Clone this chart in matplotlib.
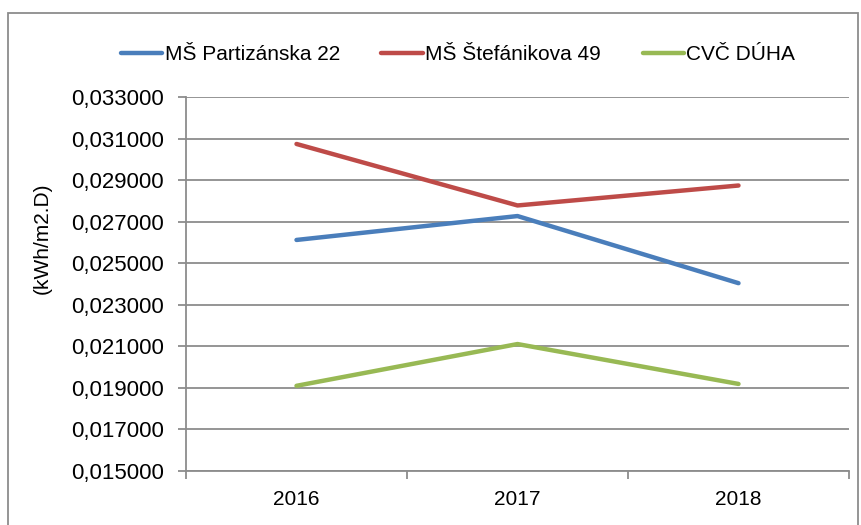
import numpy as np
import matplotlib.pyplot as plt
from matplotlib.patches import Rectangle
from matplotlib.ticker import FuncFormatter

years = ['2016', '2017', '2018']
partizanska = [0.02612, 0.02727, 0.02404]
stefanikova = [0.03074, 0.02778, 0.02874]
duha = [0.01910, 0.02111, 0.01919]

plt.rcParams['font.family'] = ['Liberation Sans', 'DejaVu Sans']

fig = plt.figure(figsize=(8.61, 5.25), dpi=100)
ax = fig.add_axes([186/861, 54/525, 663/861, 374/525])

x = np.arange(len(years))
ax.plot(x, partizanska, color='#4A7EBB', lw=3.2, solid_capstyle='round', label='MŠ Partizánska 22')
ax.plot(x, stefanikova, color='#BE4B48', lw=3.2, solid_capstyle='round', label='MŠ Štefánikova 49')
ax.plot(x, duha, color='#98B954', lw=3.2, solid_capstyle='round', label='CVČ DÚHA')

ax.set_xlim(-0.5, 2.5)
ax.set_ylim(0.015, 0.033)
ax.set_yticks(np.arange(0.015, 0.0331, 0.002))
ax.yaxis.set_major_formatter(FuncFormatter(lambda v, p: f'{v:.6f}'.replace('.', ',')))
ax.yaxis.grid(True, color='#8c8c8c', lw=1.3)
ax.set_axisbelow(True)

ax.set_xticks(x)
ax.set_xticklabels(years)
ax.set_xticks([-0.5, 0.5, 1.5, 2.5], minor=True)
ax.tick_params(axis='x', which='major', length=0, pad=14, labelsize=15)
ax.tick_params(axis='x', which='minor', length=6, color='#8c8c8c', width=1.3)
ax.tick_params(axis='y', length=6, color='#8c8c8c', width=1.3, labelsize=16, pad=10)

for s in ['top', 'right']:
    ax.spines[s].set_visible(False)
for s in ['left', 'bottom']:
    ax.spines[s].set_color('#8c8c8c')
    ax.spines[s].set_linewidth(1.3)

ax.set_ylabel('(kWh/m2.D)', fontsize=15)
ax.yaxis.set_label_coords(-0.202, 0.623)

ax.legend(loc='center', bbox_to_anchor=(458/861, 1 - 55/525), bbox_transform=fig.transFigure,
          ncol=3, frameon=False, fontsize=15, handlelength=2.0, handletextpad=0.1,
          columnspacing=2.0)

fig.patches.append(Rectangle((8/861, -0.05), 850/861, 1.05 - 13/525,
                             transform=fig.transFigure, fill=False,
                             edgecolor='#8c8c8c', lw=1.3))

fig.savefig('out.png', dpi=100)
